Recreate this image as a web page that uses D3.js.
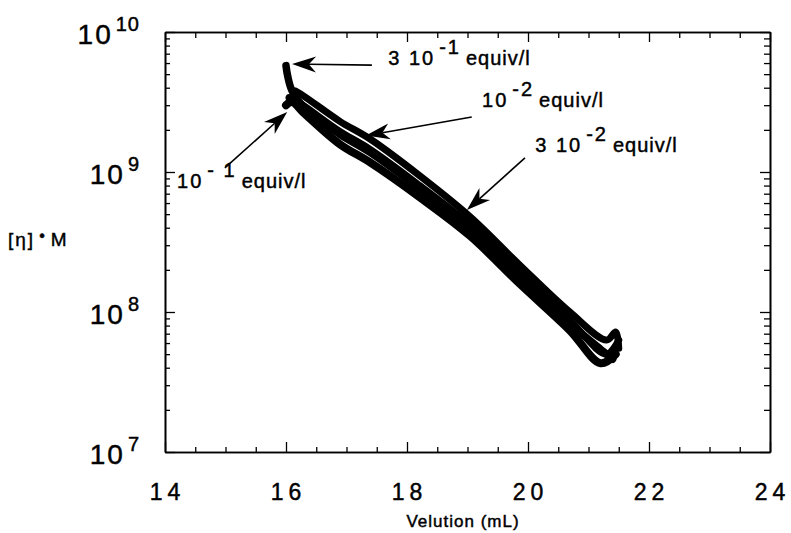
<!DOCTYPE html>
<html>
<head>
<meta charset="utf-8">
<script src="https://cdn.jsdelivr.net/npm/d3@7"></script>
<style>
body { margin: 0; background: #fff; }
svg { display: block; }
text { font-family: "Liberation Sans", Arial, sans-serif; fill: #000; stroke: #000; stroke-width: 0.45px; }
</style>
</head>
<body>
<svg id="chart" width="791" height="533"></svg>
<script>
// elution volume (mL) and [eta]*M for each salt concentration
var vel_3e1 = [16.0, 16.03, 16.1, 16.3, 16.89, 17.39, 18.21, 19.04, 19.87, 20.69, 21.25, 21.4];
var val_3e1 = [5.75e9, 4.8e9, 3.8e9, 2.88e9, 1.86e9, 1.38e9, 7.6e8, 4.0e8, 1.82e8, 8.3e7, 5.2e7, 4.6e7];

var vel_1e1 = [16.0, 16.1, 16.3, 16.89, 17.39, 18.21, 19.04, 19.87, 20.69, 21.2, 21.45];
var val_1e1 = [3.0e9, 3.16e9, 2.63e9, 1.58e9, 1.17e9, 6.6e8, 3.5e8, 1.58e8, 7.4e7, 4.3e7, 5.0e7];

var vel_1e2 = [16.15, 16.3, 16.89, 17.39, 18.21, 19.04, 19.87, 20.69, 21.3, 21.45, 21.5];
var val_1e2 = [3.8e9, 3.47e9, 2.3e9, 1.72e9, 9.4e8, 4.8e8, 2.15e8, 1.0e8, 6.3e7, 7.2e7, 5.5e7];

var vel_3e2 = [16.05, 16.2, 16.89, 17.39, 18.21, 19.04, 19.87, 20.69, 21.3, 21.5];
var val_3e2 = [3.4e9, 3.16e9, 1.95e9, 1.45e9, 8.0e8, 4.2e8, 1.9e8, 8.7e7, 5.0e7, 6.3e7];

var xTicks = [14, 16, 18, 20, 22, 24];
var yTicks = [1e7, 1e8, 1e9, 1e10];

var svg = d3.select('#chart');
var left = 165, right = 770, top_ = 32, bottom = 452;

var x = d3.scaleLinear().domain([14, 24]).range([left, right]);
var y = d3.scaleLog().domain([1e7, 1e10]).range([bottom, top_]);

// minor ticks
var xMinor = d3.range(14, 24.01, 0.5).filter(function(v) { return xTicks.indexOf(v) < 0; });
var yMinor = [];
[1e7, 1e8, 1e9].forEach(function(d) { for (var k = 2; k < 10; k++) yMinor.push(d * k); });

var styleAxis = function(g) {
    g.select('.domain').attr('stroke', '#000').attr('stroke-width', 1.6);
    g.selectAll('.tick line').attr('stroke', '#000').attr('stroke-width', 1.3);
};

// bottom
svg.append('g').attr('transform', 'translate(0,' + bottom + ')')
    .call(d3.axisBottom(x).tickValues(xTicks).tickSize(-10).tickSizeOuter(0).tickPadding(32))
    .call(styleAxis)
    .selectAll('text').attr('font-size', 23).attr('letter-spacing', '5px').attr('dx', 2)
    .attr('font-family', '"Liberation Sans", Arial, sans-serif');
svg.append('g').attr('transform', 'translate(0,' + bottom + ')')
    .call(d3.axisBottom(x).tickValues(xMinor).tickSize(-5).tickSizeOuter(0).tickFormat(''))
    .call(styleAxis);
// top
svg.append('g').attr('transform', 'translate(0,' + top_ + ')')
    .call(d3.axisTop(x).tickValues(xTicks).tickSize(-10).tickSizeOuter(0).tickFormat(''))
    .call(styleAxis);
svg.append('g').attr('transform', 'translate(0,' + top_ + ')')
    .call(d3.axisTop(x).tickValues(xMinor).tickSize(-6).tickSizeOuter(0).tickFormat(''))
    .call(styleAxis);
// left
var yl = svg.append('g').attr('transform', 'translate(' + left + ',0)')
    .call(d3.axisLeft(y).tickValues(yTicks).tickSize(-10).tickSizeOuter(0).tickPadding(25).tickFormat(''))
    .call(styleAxis);
yl.selectAll('.tick text').each(function(d) {
    var t = d3.select(this).attr('dy', 11).attr('font-family', '"Liberation Sans", Arial, sans-serif');
    t.append('tspan').attr('font-size', 28).attr('letter-spacing', '2px').text('10');
    t.append('tspan').attr('font-size', 20).attr('dy', -13).attr('dx', 3).attr('letter-spacing', '1px')
        .text(Math.round(Math.log10(d)));
});
svg.append('g').attr('transform', 'translate(' + left + ',0)')
    .call(d3.axisLeft(y).tickValues(yMinor).tickSize(-5).tickSizeOuter(0).tickFormat(''))
    .call(styleAxis);
// right
svg.append('g').attr('transform', 'translate(' + right + ',0)')
    .call(d3.axisRight(y).tickValues(yTicks).tickSize(-10).tickSizeOuter(0).tickFormat(''))
    .call(styleAxis);
svg.append('g').attr('transform', 'translate(' + right + ',0)')
    .call(d3.axisRight(y).tickValues(yMinor).tickSize(-6).tickSizeOuter(0).tickFormat(''))
    .call(styleAxis);

// axis titles
svg.append('text').attr('x', 463).attr('y', 527).attr('text-anchor', 'middle')
    .attr('font-size', 17).attr('letter-spacing', '1px').text('Velution (mL)');
var yt = svg.append('text').attr('x', 8).attr('y', 246).attr('font-size', 19);
yt.append('tspan').attr('letter-spacing', '2px').text('[\u03b7]');
yt.append('tspan').attr('dy', -5).attr('dx', 4).attr('font-size', 16).text('\u2022');
yt.append('tspan').attr('dy', 5).attr('dx', 6).text('M');

// curves
var line_func = d3.line()
    .x(function(d) { return x(d[0]); })
    .y(function(d) { return y(d[1]); })
    .curve(d3.curveCatmullRom);
var draw_curve = function(vels, vals, w) {
    svg.append('path')
        .attr('d', line_func(d3.zip(vels, vals)))
        .attr('stroke', '#000')
        .attr('stroke-width', w)
        .attr('stroke-linejoin', 'round')
        .attr('stroke-linecap', 'round')
        .attr('fill', 'none');
};
draw_curve(vel_3e1, val_3e1, 7.5);
draw_curve(vel_1e1, val_1e1, 8);
draw_curve(vel_1e2, val_1e2, 7);
draw_curve(vel_3e2, val_3e2, 7);

// annotations: arrow tail, arrow tip, label start and exponent text
var notes = [
    { tail: [17.42, 5.8e9], tip: [16.10, 5.9e9], at: [17.69, 5.8e9], pre: '3 10', exp: '-1', post: 'equiv/l' },
    { tail: [19.07, 2.47e9], tip: [17.32, 1.82e9], at: [19.24, 2.9e9], pre: '10', exp: '-2', post: 'equiv/l' },
    { tail: [19.95, 1.26e9], tip: [18.99, 5.35e8], at: [20.12, 1.39e9], pre: '3 10', exp: '-2', post: 'equiv/l' },
    { tail: [14.99, 1.07e9], tip: [16.02, 2.68e9], at: [14.2, 7.7e8], pre: '10', exp: '- 1', post: 'equiv/l' }
];
notes.forEach(function(n) {
    var x0 = x(n.tail[0]), y0 = y(n.tail[1]), x1 = x(n.tip[0]), y1 = y(n.tip[1]);
    var len = Math.hypot(x1 - x0, y1 - y0), ux = (x1 - x0) / len, uy = (y1 - y0) / len;
    var L = 24, W = 8;
    svg.append('line').attr('x1', x0).attr('y1', y0)
        .attr('x2', x1 - ux * L * 0.7).attr('y2', y1 - uy * L * 0.7)
        .attr('stroke', '#000').attr('stroke-width', 1.6);
    var p = [[x1, y1],
             [x1 - ux * L - uy * W, y1 - uy * L + ux * W],
             [x1 - ux * L * 0.7, y1 - uy * L * 0.7],
             [x1 - ux * L + uy * W, y1 - uy * L - ux * W]];
    svg.append('path').attr('d', 'M' + p.join('L') + 'Z').attr('fill', '#000');
    var t = svg.append('text').attr('x', x(n.at[0])).attr('y', y(n.at[1])).attr('font-size', 20);
    t.append('tspan').attr('letter-spacing', '2px').text(n.pre);
    t.append('tspan').attr('dy', -11).attr('dx', 4).attr('letter-spacing', '2px').text(n.exp);
    t.append('tspan').attr('dy', 11).attr('dx', 5).attr('letter-spacing', '1px').text(n.post);
});
</script>
</body>
</html>
